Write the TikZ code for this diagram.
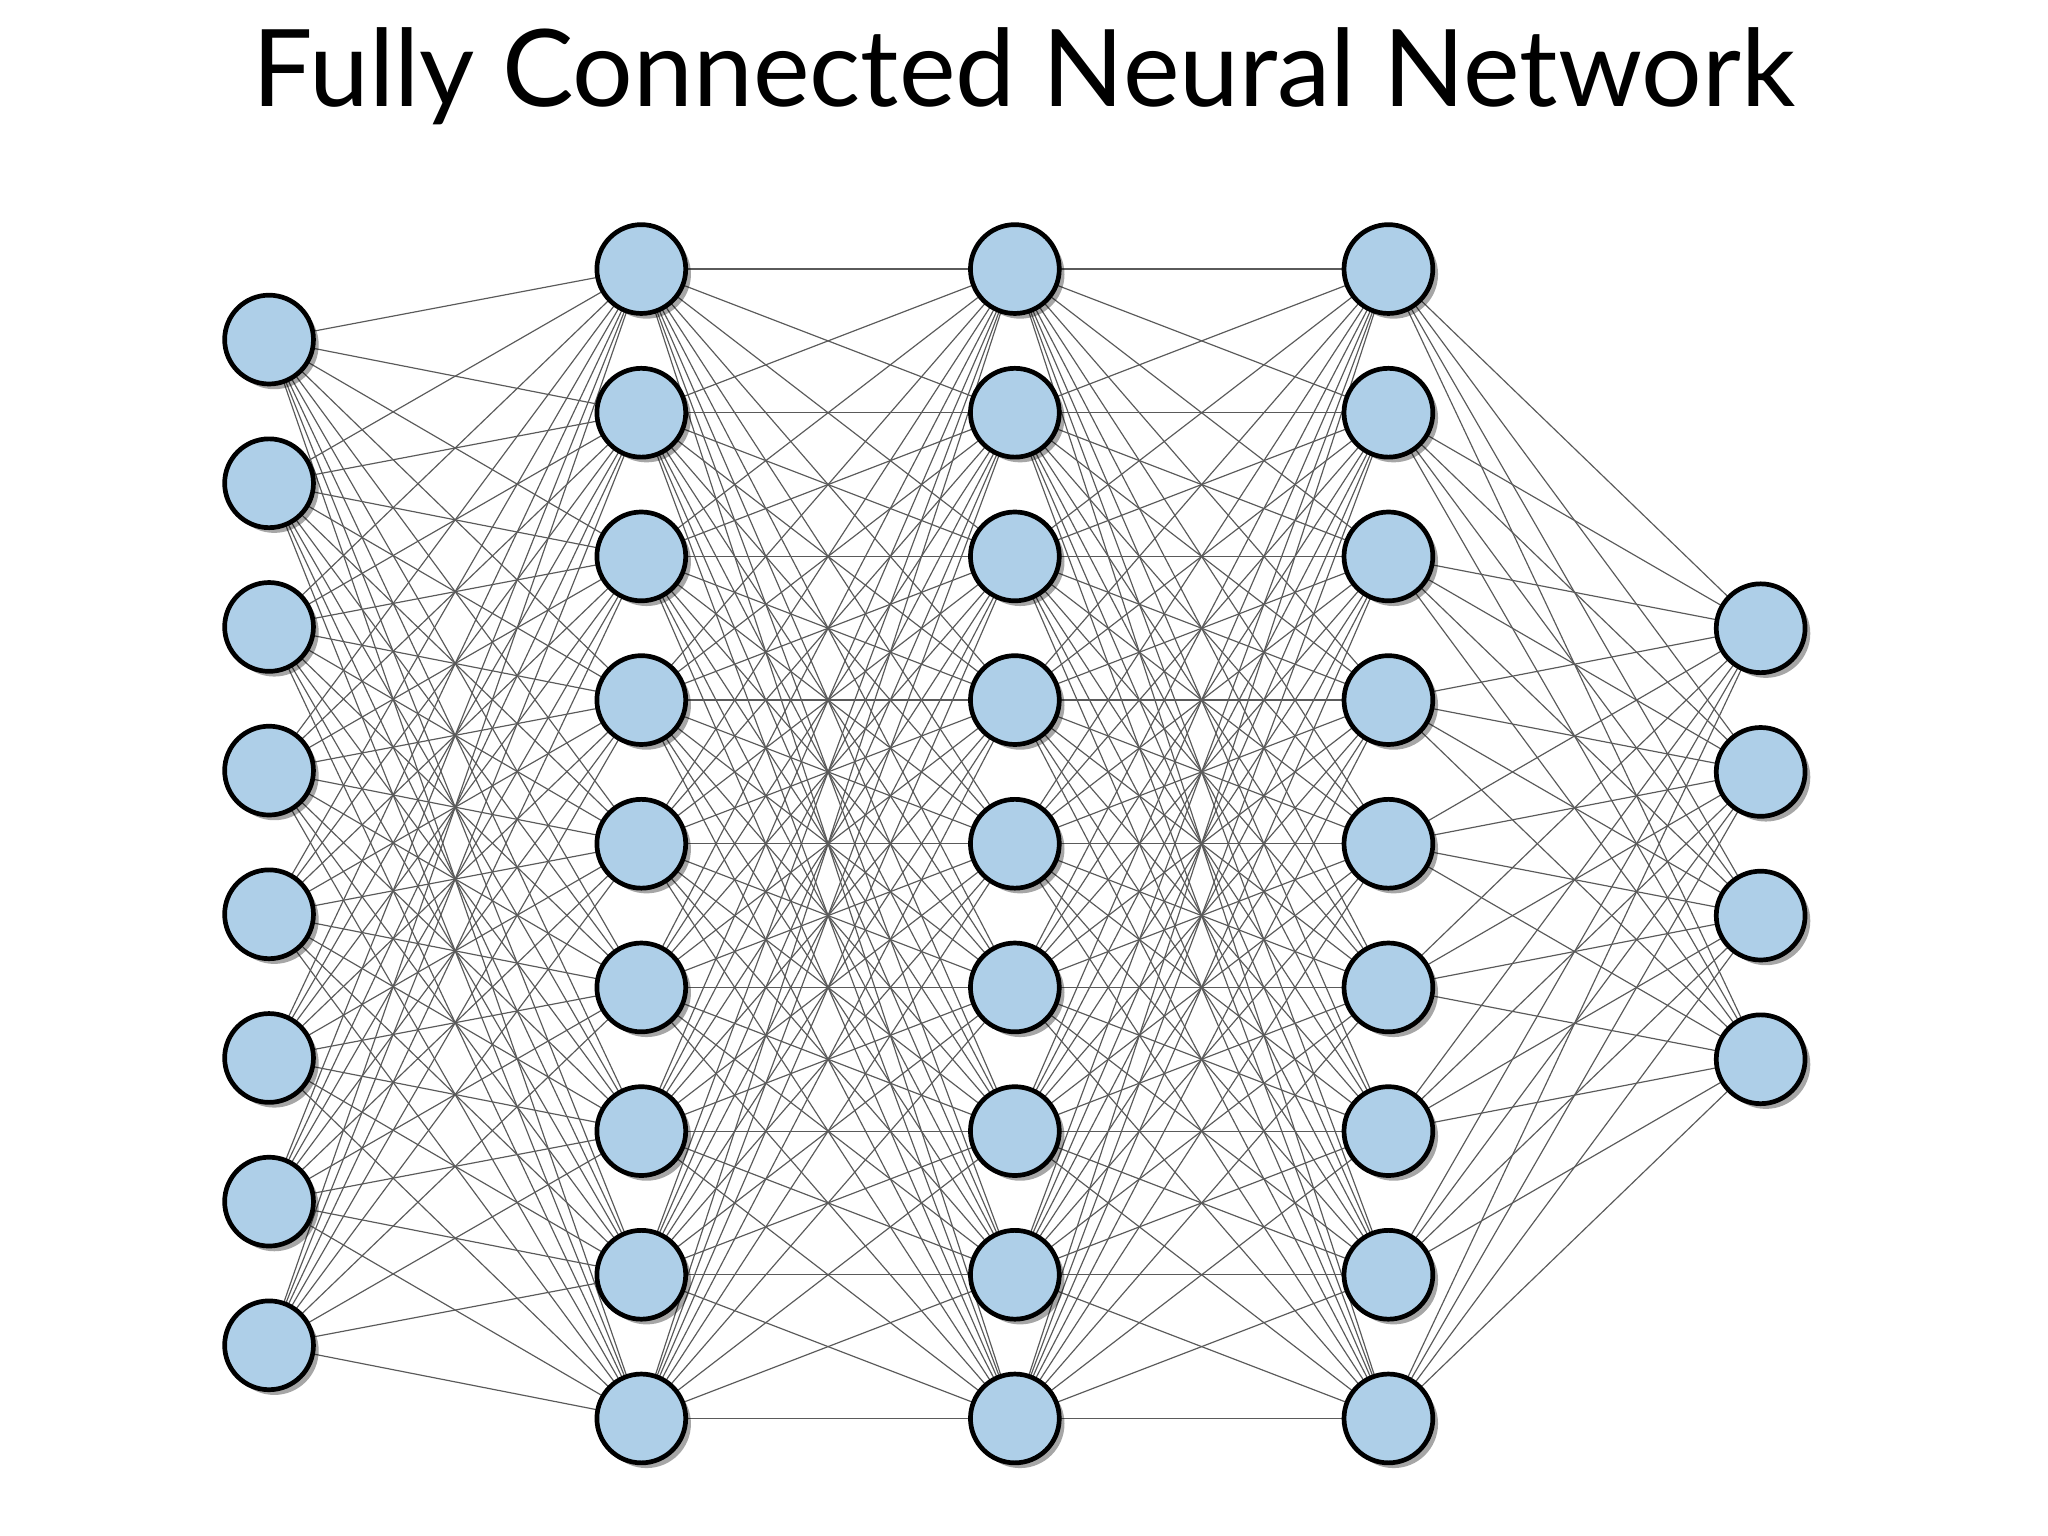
\documentclass[tikz,border=0pt]{standalone}
\usepackage{fontspec}
\setmainfont{Lato}
\usetikzlibrary{shadows}
\begin{document}
\begin{tikzpicture}[x=0.5pt,y=-0.5pt,
  neuron/.style={circle,draw=black,line width=1.8pt,fill={rgb,255:red,174;green,207;blue,232},minimum size=34pt,inner sep=0pt,
    drop shadow={shadow xshift=2pt,shadow yshift=-2pt,opacity=0.35,fill=black}},
  edge/.style={draw={rgb,255:red,90;green,90;blue,90},line width=0.45pt}]
\useasboundingbox (0,0) rectangle (1568,1176);
\node (title) at (784,58) {\fontsize{41}{49}\selectfont Fully Connected Neural Network};
% coordinates
\foreach \i in {1,...,8} \coordinate (a\i) at (206,{260+110*(\i-1)});
\foreach \i in {1,...,9} {
  \coordinate (b\i) at (491,{206+110*(\i-1)});
  \coordinate (c\i) at (777,{206+110*(\i-1)});
  \coordinate (d\i) at (1063,{206+110*(\i-1)});}
\foreach \i in {1,...,4} \coordinate (e\i) at (1348,{481+110*(\i-1)});
% edges
\foreach \i in {1,...,8} \foreach \j in {1,...,9} \draw[edge] (a\i) -- (b\j);
\foreach \i in {1,...,9} \foreach \j in {1,...,9} {\draw[edge] (b\i) -- (c\j); \draw[edge] (c\i) -- (d\j);}
\foreach \i in {1,...,9} \foreach \j in {1,...,4} \draw[edge] (d\i) -- (e\j);
% nodes
\foreach \i in {1,...,8} \node[neuron] (na\i) at (a\i) {};
\foreach \i in {1,...,9} {\node[neuron] (nb\i) at (b\i) {}; \node[neuron] (nc\i) at (c\i) {}; \node[neuron] (nd\i) at (d\i) {};}
\foreach \i in {1,...,4} \node[neuron] (ne\i) at (e\i) {};
\end{tikzpicture}
\end{document}
